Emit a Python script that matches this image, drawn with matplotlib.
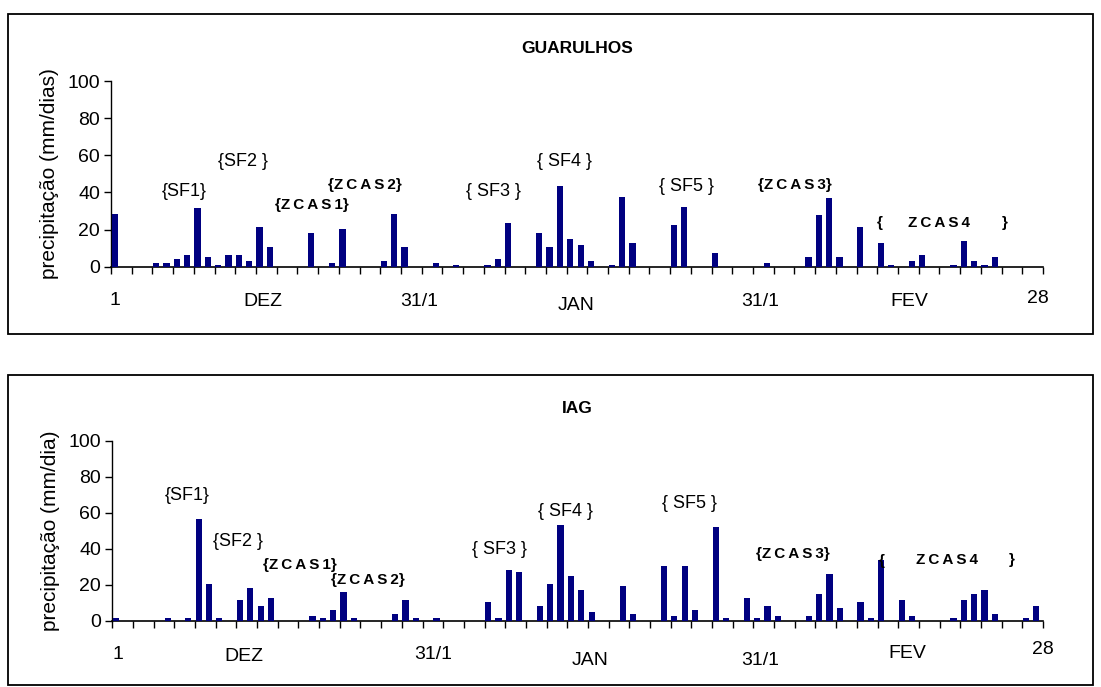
import matplotlib
matplotlib.use("Agg")
from matplotlib import pyplot as plt
from matplotlib.patches import Rectangle
from matplotlib import transforms

plt.rcParams['font.family'] = ['Liberation Sans', 'DejaVu Sans']

W, H = 1101, 687
n_days = 90

# daily precipitation, 1 Dec .. 28 Feb (index = day number - 1)
guarulhos = [0.0] * n_days
for d, v in {0: 28.2, 4: 2.2, 5: 2.2, 6: 4.3, 7: 6.5, 8: 31.4, 9: 5.4, 10: 1.1,
             11: 6.5, 12: 6.5, 13: 3.3, 14: 21.6, 15: 10.8, 19: 18.4, 21: 2.2,
             22: 20.5, 26: 3.3, 27: 28.2, 28: 10.8, 31: 2.2, 33: 1.1, 36: 1.1,
             37: 4.3, 38: 23.8, 41: 18.4, 42: 10.8, 43: 43.2, 44: 15.1, 45: 11.9,
             46: 3.3, 48: 1.1, 49: 37.8, 50: 13.0, 54: 22.7, 55: 32.4, 58: 7.6,
             63: 2.2, 67: 5.4, 68: 28.1, 69: 36.8, 70: 5.4, 72: 21.6, 74: 13.0,
             75: 1.1, 77: 3.3, 78: 6.5, 81: 1.1, 82: 14.0, 83: 3.3, 84: 1.1,
             85: 5.4}.items():
    guarulhos[d] = v

iag = [0.0] * n_days
for d, v in {0: 1.5, 5: 1.5, 7: 1.5, 8: 56.7, 9: 20.3, 10: 1.5, 12: 11.4,
             13: 18.0, 14: 8.1, 15: 12.5, 19: 2.6, 20: 1.5, 21: 5.9, 22: 15.8,
             23: 1.5, 27: 3.7, 28: 11.4, 29: 1.5, 31: 1.5, 36: 10.3, 37: 1.5,
             38: 28.0, 39: 26.9, 41: 8.1, 42: 20.3, 43: 53.4, 44: 24.7, 45: 16.9,
             46: 4.8, 49: 19.2, 50: 3.7, 53: 30.2, 54: 2.6, 55: 30.2, 56: 5.9,
             58: 52.3, 59: 1.5, 61: 12.5, 62: 1.5, 63: 8.1, 64: 2.6, 67: 2.6,
             68: 14.7, 69: 25.8, 70: 7.0, 72: 10.3, 73: 1.5, 74: 33.5, 76: 11.4,
             77: 2.6, 81: 1.5, 82: 11.4, 83: 14.7, 84: 16.9, 85: 3.7, 88: 1.5,
             89: 8.1}.items():
    iag[d] = v

month_labels = ['1', 'DEZ', '31/1', 'JAN', '31/1', 'FEV', '28']
yticks = [0, 20, 40, 60, 80, 100]

def spaced(s):
    return '\u2009'.join(s)

top_notes = [('{SF1}', 7.1, 40.4, False), ('{SF2 }', 12.7, 56.5, False),
             ('{' + spaced('ZCAS1') + '}', 19.4, 33.2, True),
             ('{' + spaced('ZCAS2') + '}', 24.5, 44.0, True),
             ('{ SF3 }', 36.9, 40.4, False), ('{ SF4 }', 43.8, 56.5, False),
             ('{ SF5 }', 55.6, 43.1, False),
             ('{' + spaced('ZCAS3') + '}', 66.0, 44.0, True),
             ('{', 74.2, 23.7, True), (spaced('ZCAS4'), 80.0, 23.7, True),
             ('}', 86.3, 23.7, True)]
bot_notes = [('{SF1}', 7.2, 69.8, False), ('{SF2 }', 12.2, 43.9, False),
             ('{' + spaced('ZCAS1') + '}', 18.1, 30.9, True),
             ('{' + spaced('ZCAS2') + '}', 24.7, 22.6, True),
             ('{ SF3 }', 37.4, 39.3, False), ('{ SF4 }', 43.8, 60.6, False),
             ('{ SF5 }', 55.8, 65.2, False),
             ('{' + spaced('ZCAS3') + '}', 65.8, 36.9, True),
             ('{', 74.4, 33.3, True), (spaced('ZCAS4'), 80.7, 33.7, True),
             ('}', 87.0, 33.7, True)]

top_lab_x = [0.4, 14.7, 29.8, 44.9, 62.7, 77.1, 89.5]
top_lab_y = [-0.18, -0.19, -0.19, -0.21, -0.19, -0.19, -0.17]
bot_lab_x = [0.5, 12.7, 31.0, 46.2, 62.7, 76.9, 90.0]
bot_lab_y = [-0.19, -0.20, -0.19, -0.22, -0.22, -0.18, -0.16]

fig = plt.figure(figsize=(W / 100, H / 100), dpi=100)

def panel(rect_px, box_px, values, title, ylabel, notes, lab_x, lab_y):
    l, t, r, b = rect_px
    ax = fig.add_axes([l / W, 1 - b / H, (r - l) / W, (b - t) / H])
    x = [i + 0.05 for i in range(n_days)]
    ax.bar(x, values, width=0.6, align='edge', color='#000080', zorder=3)
    ax.set_xlim(0, n_days)
    ax.set_ylim(0, 100)
    ax.set_yticks(yticks)
    ax.set_xticks(range(0, n_days + 1, 2))
    ax.set_xticklabels([])
    ax.tick_params(axis='y', direction='out', length=5, width=1, labelsize=14, pad=3)
    ax.tick_params(axis='x', direction='out', length=5, width=1)
    for s in ['top', 'right']:
        ax.spines[s].set_visible(False)
    ax.spines['left'].set_linewidth(1)
    ax.spines['bottom'].set_linewidth(1.2)
    ax.set_ylabel(ylabel, fontsize=15, labelpad=6)
    ax.set_title(title, fontsize=12.5, fontweight='bold', pad=20)
    for txt, nx, ny, bold in notes:
        ax.text(nx, ny, txt, ha='center', va='center',
                fontsize=11 if bold else 13,
                fontweight='bold' if bold else 'normal')
    tr = transforms.blended_transform_factory(ax.transData, ax.transAxes)
    for txt, lx, ly in zip(month_labels, lab_x, lab_y):
        ax.text(lx, ly, txt, transform=tr, ha='center', va='center', fontsize=14)
    bl, bt, br, bb = box_px
    fig.add_artist(Rectangle((bl / W, 1 - bb / H), (br - bl) / W, (bb - bt) / H,
                             transform=fig.transFigure, fill=False,
                             edgecolor='black', linewidth=1.3))
    return ax

panel((111, 81, 1043, 266.7), (8, 14, 1093, 334), guarulhos, 'GUARULHOS',
      'precipitação (mm/dias)', top_notes, top_lab_x, top_lab_y)
panel((112.3, 440.7, 1043, 620.7), (8, 375, 1093, 685), iag, 'IAG',
      'precipitação (mm/dia)', bot_notes, bot_lab_x, bot_lab_y)

fig.savefig('out.png', dpi=100)
